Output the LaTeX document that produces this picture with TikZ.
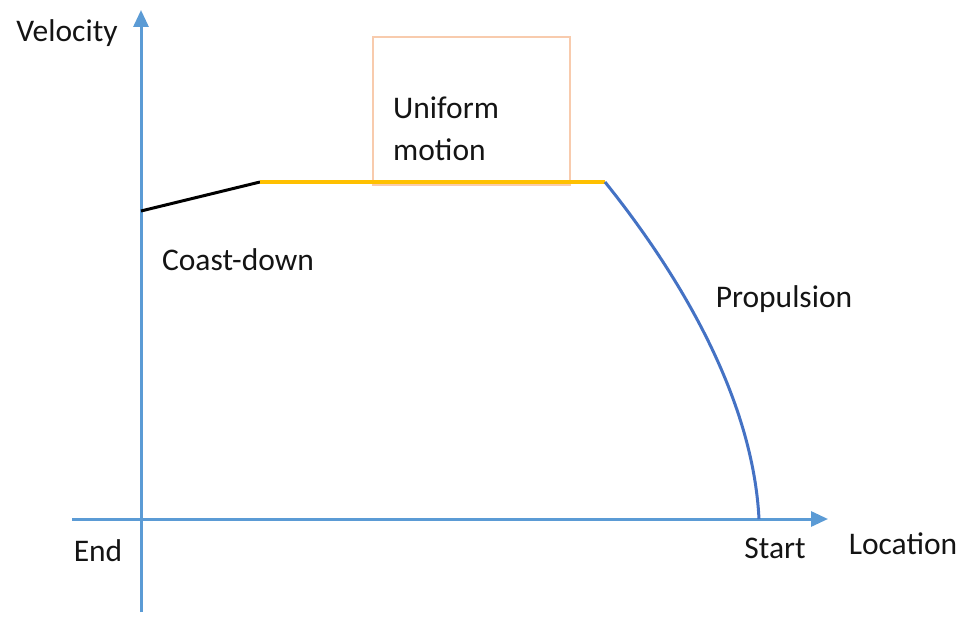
\documentclass[tikz,border=0pt]{standalone}
\usepackage{fontspec}
\setmainfont{Carlito}
\usetikzlibrary{arrows.meta}
\definecolor{axisblue}{HTML}{5B9BD5}
\definecolor{curveblue}{HTML}{4472C4}
\definecolor{uniorange}{HTML}{FFC000}
\definecolor{peach}{HTML}{F8CBAD}
\begin{document}
\begin{tikzpicture}[x=1pt,y=-1pt,
  axis/.style={axisblue,line width=3pt,-{Triangle[length=17pt,width=15pt]}},
  lbl/.style={font=\fontsize{31.5}{42}\selectfont,text=black!92,inner sep=0pt}]
\useasboundingbox (0,0) rectangle (966,617);
% box
\node[draw=peach,line width=1.5pt,minimum width=197pt,minimum height=148pt,inner sep=0pt] (box) at (471.5,111) {};
% axes
\coordinate (ybot) at (141,612);
\coordinate (ytop) at (141,10);
\coordinate (xl) at (72,519);
\coordinate (xr) at (828,519);
\draw[axis] (ybot) -- (ytop);
\draw[axis] (xl) -- (xr);
% curve points
\coordinate (c0) at (141,211);
\coordinate (c1) at (260,182);
\coordinate (c2) at (605,182);
\coordinate (c3) at (759,519);
\draw[black,line width=3pt] (c0) -- (c1);
\draw[uniorange,line width=3.5pt] (c1) -- (c2);
\draw[curveblue,line width=3pt] (c2) .. controls (682,278) and (753,400) .. (c3);
% labels
\node[lbl] (vel) at (67,33) {Velocity};
\node[lbl,align=left,anchor=west] (uni) at (393,129) {Uniform\\motion};
\node[lbl] (coast) at (238,260) {Coast-down};
\node[lbl] (prop) at (784,299) {Propulsion};
\node[lbl] (end) at (98,551) {End};
\node[lbl] (start) at (775,548) {Start};
\node[lbl] (loc) at (903,544) {Location};
\end{tikzpicture}
\end{document}
